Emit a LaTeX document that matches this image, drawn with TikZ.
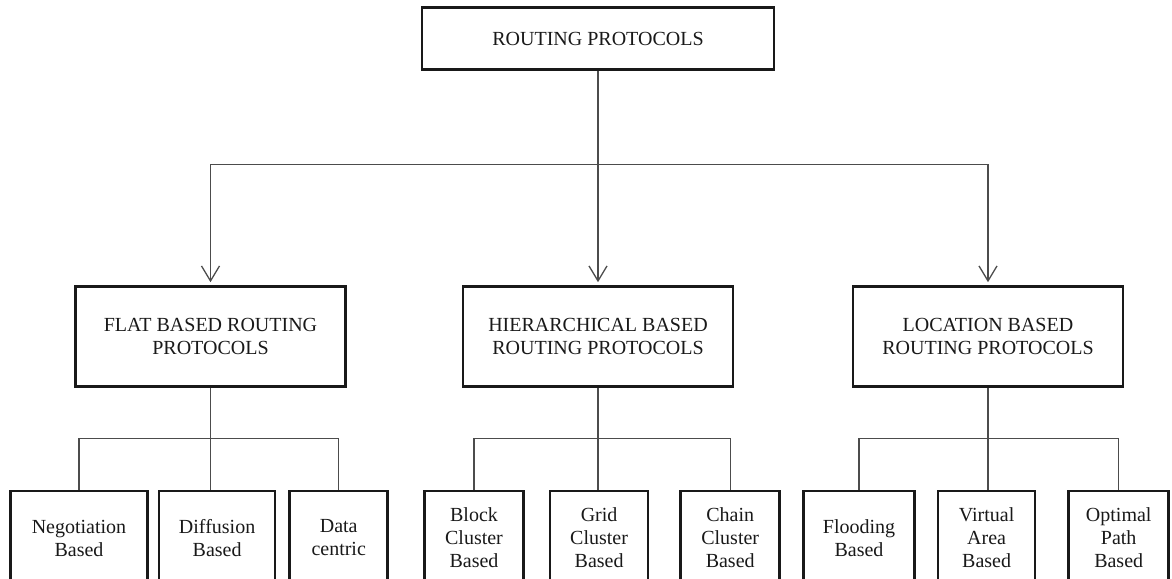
\documentclass[tikz,border=0pt]{standalone}
\usepackage{fontspec}
\setmainfont{Liberation Serif}
\usetikzlibrary{positioning,arrows.meta}
\tikzstyle{routing tree}=[
    x=1pt, y=-1pt, >={Straight Barb[length=15pt,width=18pt]},
    every node/.style={font=\fontsize{20}{23}\selectfont, align=center, text=black!90},
    box/.style={draw=black!90, line width=2.6pt, inner sep=0pt},
    midbox/.style={box, minimum width=270pt, minimum height=100pt},
    leafbox/.style={box, minimum height=94pt},
    wire/.style={draw=black!70, line width=1.3pt},
]

\begin{document}
\begin{tikzpicture}[routing tree]
        \useasboundingbox (0,0) rectangle (1172,578);
        \node[box, minimum width=352pt, minimum height=62pt] (root) at (598,38.5) {ROUTING PROTOCOLS};
        \node[midbox] (flat) at (210.5,336.5) {FLAT BASED ROUTING\\PROTOCOLS};
        \node[midbox] (hier) at (598,336.5) {HIERARCHICAL BASED\\ROUTING PROTOCOLS};
        \node[midbox] (loc) at (988,336.5) {LOCATION BASED\\ROUTING PROTOCOLS};

        \node[leafbox, minimum width=137pt] (neg) at (79,538) {Negotiation\\Based};
        \node[leafbox, minimum width=116pt, right=9pt of neg] (diff) {Diffusion\\Based};
        \node[leafbox, minimum width=98pt, right=12pt of diff] (data) {Data\\centric};
        \node[leafbox, minimum width=99pt] (block) at (474,538) {Block\\Cluster\\Based};
        \node[leafbox, minimum width=98pt, right=24pt of block] (grid) {Grid\\Cluster\\Based};
        \node[leafbox, minimum width=99pt, right=30pt of grid] (chain) {Chain\\Cluster\\Based};
        \node[leafbox, minimum width=111pt] (flood) at (859,538) {Flooding\\Based};
        \node[leafbox, minimum width=97pt, right=21pt of flood] (virt) {Virtual\\Area\\Based};
        \node[leafbox, minimum width=100pt, right=31pt of virt] (opt) {Optimal\\Path\\Based};

        % top level
        \path (root.south) ++(0,94) coordinate (split);
        \draw[wire, ->, shorten >=3pt] (root.south) -- (hier.north);
        \draw[wire, ->, shorten >=3pt] (split) -| (flat.north);
        \draw[wire, ->, shorten >=3pt] (split) -| (loc.north);

        % sub trees
        \foreach \parent/\a/\b/\c in {flat/neg/diff/data, hier/block/grid/chain, loc/flood/virt/opt} {
            \path (\parent.south) ++(0,51) coordinate (bus);
            \draw[wire] (\parent.south) -- (bus |- \b.north);
            \draw[wire] (\a.north) |- (bus) -| (\c.north);
        }
    \end{tikzpicture}
\end{document}
